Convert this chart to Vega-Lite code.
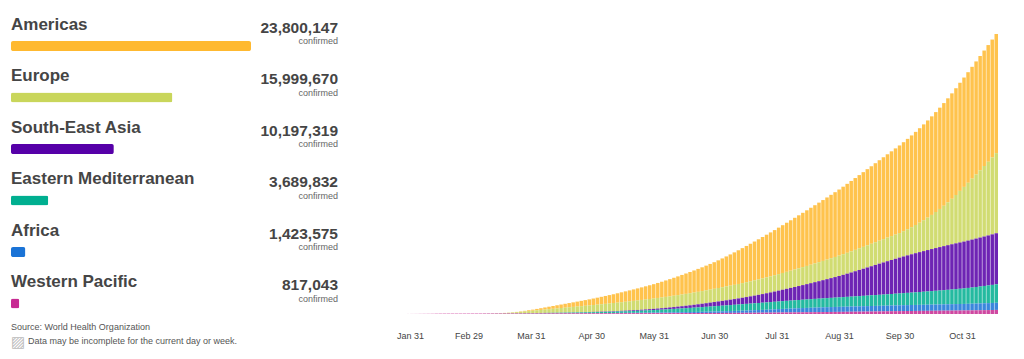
{
"$schema":"https://vega.github.io/schema/vega-lite/v6.json",
"background":"white",
"padding":{"left":11,"top":10,"right":0,"bottom":0},
"config":{"font":"Liberation Sans","view":{"stroke":null}},
"datasets":{
"regions":[
{"key":"AMR","region":"Americas","confirmed":23800147},
{"key":"EUR","region":"Europe","confirmed":15999670},
{"key":"SEA","region":"South-East Asia","confirmed":10197319},
{"key":"EMR","region":"Eastern Mediterranean","confirmed":3689832},
{"key":"AFR","region":"Africa","confirmed":1423575},
{"key":"WPR","region":"Western Pacific","confirmed":817043}
],
"cumulative":[
{"date":"2020-01-22","AMR":0,"EUR":0,"SEA":0,"EMR":0,"AFR":0,"WPR":1},
{"date":"2020-01-24","AMR":0,"EUR":0,"SEA":0,"EMR":0,"AFR":0,"WPR":1},
{"date":"2020-01-26","AMR":0,"EUR":0,"SEA":0,"EMR":0,"AFR":0,"WPR":2},
{"date":"2020-01-28","AMR":0,"EUR":0,"SEA":0,"EMR":0,"AFR":0,"WPR":6},
{"date":"2020-01-30","AMR":0,"EUR":0,"SEA":0,"EMR":0,"AFR":0,"WPR":8},
{"date":"2020-02-01","AMR":0,"EUR":0,"SEA":0,"EMR":0,"AFR":0,"WPR":12},
{"date":"2020-02-03","AMR":0,"EUR":0,"SEA":0,"EMR":0,"AFR":0,"WPR":17},
{"date":"2020-02-05","AMR":0,"EUR":0,"SEA":0,"EMR":0,"AFR":0,"WPR":25},
{"date":"2020-02-07","AMR":0,"EUR":0,"SEA":0,"EMR":0,"AFR":0,"WPR":32},
{"date":"2020-02-09","AMR":0,"EUR":0,"SEA":0,"EMR":0,"AFR":0,"WPR":38},
{"date":"2020-02-11","AMR":0,"EUR":0,"SEA":0,"EMR":0,"AFR":0,"WPR":44},
{"date":"2020-02-13","AMR":0,"EUR":0,"SEA":0,"EMR":0,"AFR":0,"WPR":61},
{"date":"2020-02-15","AMR":0,"EUR":0,"SEA":0,"EMR":0,"AFR":0,"WPR":68},
{"date":"2020-02-17","AMR":0,"EUR":0,"SEA":0,"EMR":0,"AFR":0,"WPR":72},
{"date":"2020-02-19","AMR":0,"EUR":0,"SEA":0,"EMR":0,"AFR":0,"WPR":75},
{"date":"2020-02-21","AMR":0,"EUR":0,"SEA":0,"EMR":0,"AFR":0,"WPR":76},
{"date":"2020-02-23","AMR":0,"EUR":0,"SEA":0,"EMR":1,"AFR":0,"WPR":77},
{"date":"2020-02-25","AMR":0,"EUR":0,"SEA":0,"EMR":1,"AFR":0,"WPR":78},
{"date":"2020-02-27","AMR":0,"EUR":1,"SEA":0,"EMR":1,"AFR":0,"WPR":80},
{"date":"2020-02-29","AMR":0,"EUR":2,"SEA":0,"EMR":1,"AFR":0,"WPR":83},
{"date":"2020-03-02","AMR":0,"EUR":3,"SEA":0,"EMR":2,"AFR":0,"WPR":86},
{"date":"2020-03-04","AMR":0,"EUR":4,"SEA":0,"EMR":3,"AFR":0,"WPR":88},
{"date":"2020-03-06","AMR":0,"EUR":6,"SEA":0,"EMR":5,"AFR":0,"WPR":90},
{"date":"2020-03-08","AMR":1,"EUR":10,"SEA":0,"EMR":7,"AFR":0,"WPR":92},
{"date":"2020-03-10","AMR":1,"EUR":15,"SEA":0,"EMR":9,"AFR":0,"WPR":93},
{"date":"2020-03-12","AMR":2,"EUR":23,"SEA":0,"EMR":12,"AFR":0,"WPR":95},
{"date":"2020-03-14","AMR":3,"EUR":36,"SEA":0,"EMR":15,"AFR":0,"WPR":97},
{"date":"2020-03-16","AMR":5,"EUR":56,"SEA":0,"EMR":18,"AFR":0,"WPR":98},
{"date":"2020-03-18","AMR":9,"EUR":85,"SEA":1,"EMR":21,"AFR":1,"WPR":100},
{"date":"2020-03-20","AMR":17,"EUR":122,"SEA":1,"EMR":25,"AFR":1,"WPR":102},
{"date":"2020-03-22","AMR":33,"EUR":170,"SEA":1,"EMR":29,"AFR":1,"WPR":104},
{"date":"2020-03-24","AMR":55,"EUR":220,"SEA":2,"EMR":34,"AFR":2,"WPR":106},
{"date":"2020-03-26","AMR":85,"EUR":277,"SEA":2,"EMR":40,"AFR":2,"WPR":109},
{"date":"2020-03-28","AMR":125,"EUR":343,"SEA":3,"EMR":46,"AFR":3,"WPR":111},
{"date":"2020-03-30","AMR":170,"EUR":405,"SEA":4,"EMR":53,"AFR":4,"WPR":114},
{"date":"2020-04-01","AMR":215,"EUR":470,"SEA":5,"EMR":60,"AFR":5,"WPR":117},
{"date":"2020-04-03","AMR":280,"EUR":535,"SEA":6,"EMR":67,"AFR":6,"WPR":120},
{"date":"2020-04-05","AMR":350,"EUR":600,"SEA":8,"EMR":74,"AFR":7,"WPR":123},
{"date":"2020-04-07","AMR":420,"EUR":665,"SEA":10,"EMR":81,"AFR":8,"WPR":125},
{"date":"2020-04-09","AMR":490,"EUR":730,"SEA":12,"EMR":88,"AFR":9,"WPR":128},
{"date":"2020-04-11","AMR":560,"EUR":793,"SEA":14,"EMR":95,"AFR":10,"WPR":131},
{"date":"2020-04-13","AMR":630,"EUR":855,"SEA":16,"EMR":103,"AFR":11,"WPR":133},
{"date":"2020-04-15","AMR":700,"EUR":916,"SEA":19,"EMR":111,"AFR":12,"WPR":135},
{"date":"2020-04-17","AMR":770,"EUR":976,"SEA":22,"EMR":119,"AFR":14,"WPR":138},
{"date":"2020-04-19","AMR":840,"EUR":1035,"SEA":25,"EMR":128,"AFR":16,"WPR":140},
{"date":"2020-04-21","AMR":910,"EUR":1093,"SEA":29,"EMR":137,"AFR":18,"WPR":142},
{"date":"2020-04-23","AMR":985,"EUR":1150,"SEA":33,"EMR":147,"AFR":20,"WPR":144},
{"date":"2020-04-25","AMR":1060,"EUR":1206,"SEA":37,"EMR":157,"AFR":22,"WPR":146},
{"date":"2020-04-27","AMR":1135,"EUR":1260,"SEA":42,"EMR":168,"AFR":24,"WPR":148},
{"date":"2020-04-29","AMR":1210,"EUR":1313,"SEA":47,"EMR":179,"AFR":26,"WPR":150},
{"date":"2020-05-01","AMR":1300,"EUR":1368,"SEA":52,"EMR":191,"AFR":29,"WPR":151},
{"date":"2020-05-03","AMR":1390,"EUR":1422,"SEA":58,"EMR":204,"AFR":32,"WPR":153},
{"date":"2020-05-05","AMR":1482,"EUR":1475,"SEA":65,"EMR":218,"AFR":35,"WPR":155},
{"date":"2020-05-07","AMR":1576,"EUR":1527,"SEA":72,"EMR":233,"AFR":38,"WPR":157},
{"date":"2020-05-09","AMR":1672,"EUR":1578,"SEA":80,"EMR":249,"AFR":42,"WPR":159},
{"date":"2020-05-11","AMR":1770,"EUR":1628,"SEA":89,"EMR":266,"AFR":46,"WPR":161},
{"date":"2020-05-13","AMR":1870,"EUR":1677,"SEA":98,"EMR":284,"AFR":50,"WPR":163},
{"date":"2020-05-15","AMR":1972,"EUR":1725,"SEA":112,"EMR":303,"AFR":55,"WPR":165},
{"date":"2020-05-17","AMR":2076,"EUR":1772,"SEA":124,"EMR":323,"AFR":60,"WPR":167},
{"date":"2020-05-19","AMR":2182,"EUR":1818,"SEA":137,"EMR":344,"AFR":66,"WPR":169},
{"date":"2020-05-21","AMR":2290,"EUR":1863,"SEA":151,"EMR":366,"AFR":72,"WPR":171},
{"date":"2020-05-23","AMR":2400,"EUR":1907,"SEA":166,"EMR":390,"AFR":78,"WPR":173},
{"date":"2020-05-25","AMR":2512,"EUR":1950,"SEA":183,"EMR":415,"AFR":85,"WPR":175},
{"date":"2020-05-27","AMR":2626,"EUR":1992,"SEA":201,"EMR":442,"AFR":92,"WPR":177},
{"date":"2020-05-29","AMR":2742,"EUR":2033,"SEA":220,"EMR":470,"AFR":98,"WPR":179},
{"date":"2020-05-31","AMR":2860,"EUR":2073,"SEA":241,"EMR":500,"AFR":105,"WPR":181},
{"date":"2020-06-02","AMR":2995,"EUR":2111,"SEA":263,"EMR":534,"AFR":113,"WPR":183},
{"date":"2020-06-04","AMR":3135,"EUR":2149,"SEA":287,"EMR":569,"AFR":121,"WPR":185},
{"date":"2020-06-06","AMR":3280,"EUR":2187,"SEA":313,"EMR":605,"AFR":130,"WPR":187},
{"date":"2020-06-08","AMR":3430,"EUR":2225,"SEA":341,"EMR":642,"AFR":139,"WPR":189},
{"date":"2020-06-10","AMR":3585,"EUR":2263,"SEA":371,"EMR":679,"AFR":148,"WPR":191},
{"date":"2020-06-12","AMR":3743,"EUR":2301,"SEA":404,"EMR":716,"AFR":158,"WPR":193},
{"date":"2020-06-14","AMR":3904,"EUR":2339,"SEA":440,"EMR":753,"AFR":169,"WPR":195},
{"date":"2020-06-16","AMR":4068,"EUR":2377,"SEA":479,"EMR":790,"AFR":180,"WPR":197},
{"date":"2020-06-18","AMR":4235,"EUR":2415,"SEA":521,"EMR":828,"AFR":192,"WPR":199},
{"date":"2020-06-20","AMR":4405,"EUR":2453,"SEA":566,"EMR":866,"AFR":205,"WPR":201},
{"date":"2020-06-22","AMR":4578,"EUR":2491,"SEA":614,"EMR":904,"AFR":219,"WPR":203},
{"date":"2020-06-24","AMR":4754,"EUR":2530,"SEA":665,"EMR":942,"AFR":234,"WPR":205},
{"date":"2020-06-26","AMR":4934,"EUR":2569,"SEA":719,"EMR":981,"AFR":250,"WPR":207},
{"date":"2020-06-28","AMR":5119,"EUR":2608,"SEA":776,"EMR":1020,"AFR":267,"WPR":209},
{"date":"2020-06-30","AMR":5309,"EUR":2647,"SEA":836,"EMR":1058,"AFR":285,"WPR":211},
{"date":"2020-07-02","AMR":5529,"EUR":2687,"SEA":892,"EMR":1094,"AFR":303,"WPR":214},
{"date":"2020-07-04","AMR":5757,"EUR":2727,"SEA":950,"EMR":1129,"AFR":322,"WPR":217},
{"date":"2020-07-06","AMR":5993,"EUR":2767,"SEA":1010,"EMR":1164,"AFR":342,"WPR":221},
{"date":"2020-07-08","AMR":6235,"EUR":2807,"SEA":1073,"EMR":1198,"AFR":362,"WPR":225},
{"date":"2020-07-10","AMR":6481,"EUR":2847,"SEA":1139,"EMR":1231,"AFR":383,"WPR":229},
{"date":"2020-07-12","AMR":6731,"EUR":2887,"SEA":1209,"EMR":1263,"AFR":405,"WPR":234},
{"date":"2020-07-14","AMR":6985,"EUR":2927,"SEA":1283,"EMR":1294,"AFR":428,"WPR":239},
{"date":"2020-07-16","AMR":7241,"EUR":2967,"SEA":1361,"EMR":1324,"AFR":452,"WPR":245},
{"date":"2020-07-18","AMR":7499,"EUR":3007,"SEA":1443,"EMR":1353,"AFR":477,"WPR":251},
{"date":"2020-07-20","AMR":7757,"EUR":3048,"SEA":1530,"EMR":1381,"AFR":503,"WPR":257},
{"date":"2020-07-22","AMR":8013,"EUR":3089,"SEA":1622,"EMR":1408,"AFR":530,"WPR":263},
{"date":"2020-07-24","AMR":8269,"EUR":3130,"SEA":1719,"EMR":1434,"AFR":558,"WPR":269},
{"date":"2020-07-26","AMR":8523,"EUR":3172,"SEA":1821,"EMR":1459,"AFR":587,"WPR":276},
{"date":"2020-07-28","AMR":8775,"EUR":3214,"SEA":1928,"EMR":1483,"AFR":617,"WPR":283},
{"date":"2020-07-30","AMR":9020,"EUR":3257,"SEA":2040,"EMR":1506,"AFR":647,"WPR":290},
{"date":"2020-08-01","AMR":9282,"EUR":3303,"SEA":2158,"EMR":1529,"AFR":682,"WPR":297},
{"date":"2020-08-03","AMR":9544,"EUR":3349,"SEA":2278,"EMR":1552,"AFR":712,"WPR":305},
{"date":"2020-08-05","AMR":9806,"EUR":3396,"SEA":2400,"EMR":1575,"AFR":741,"WPR":313},
{"date":"2020-08-07","AMR":10067,"EUR":3443,"SEA":2525,"EMR":1598,"AFR":769,"WPR":321},
{"date":"2020-08-09","AMR":10328,"EUR":3491,"SEA":2653,"EMR":1621,"AFR":795,"WPR":329},
{"date":"2020-08-11","AMR":10589,"EUR":3539,"SEA":2784,"EMR":1644,"AFR":820,"WPR":337},
{"date":"2020-08-13","AMR":10850,"EUR":3588,"SEA":2918,"EMR":1667,"AFR":844,"WPR":345},
{"date":"2020-08-15","AMR":11111,"EUR":3638,"SEA":3055,"EMR":1691,"AFR":866,"WPR":354},
{"date":"2020-08-17","AMR":11372,"EUR":3689,"SEA":3195,"EMR":1715,"AFR":887,"WPR":363},
{"date":"2020-08-19","AMR":11633,"EUR":3741,"SEA":3338,"EMR":1740,"AFR":907,"WPR":372},
{"date":"2020-08-21","AMR":11894,"EUR":3794,"SEA":3484,"EMR":1765,"AFR":926,"WPR":381},
{"date":"2020-08-23","AMR":12155,"EUR":3848,"SEA":3633,"EMR":1790,"AFR":944,"WPR":390},
{"date":"2020-08-25","AMR":12416,"EUR":3903,"SEA":3785,"EMR":1815,"AFR":961,"WPR":399},
{"date":"2020-08-27","AMR":12677,"EUR":3959,"SEA":3941,"EMR":1840,"AFR":977,"WPR":408},
{"date":"2020-08-29","AMR":12938,"EUR":4016,"SEA":4101,"EMR":1866,"AFR":992,"WPR":417},
{"date":"2020-08-31","AMR":13199,"EUR":4074,"SEA":4265,"EMR":1892,"AFR":1007,"WPR":426},
{"date":"2020-09-02","AMR":13486,"EUR":4122,"SEA":4444,"EMR":1921,"AFR":1019,"WPR":436},
{"date":"2020-09-04","AMR":13773,"EUR":4171,"SEA":4628,"EMR":1950,"AFR":1030,"WPR":446},
{"date":"2020-09-06","AMR":14060,"EUR":4221,"SEA":4818,"EMR":1979,"AFR":1041,"WPR":456},
{"date":"2020-09-08","AMR":14347,"EUR":4272,"SEA":5012,"EMR":2009,"AFR":1052,"WPR":466},
{"date":"2020-09-10","AMR":14634,"EUR":4324,"SEA":5210,"EMR":2039,"AFR":1062,"WPR":476},
{"date":"2020-09-12","AMR":14921,"EUR":4377,"SEA":5410,"EMR":2069,"AFR":1072,"WPR":486},
{"date":"2020-09-14","AMR":15208,"EUR":4431,"SEA":5612,"EMR":2100,"AFR":1082,"WPR":496},
{"date":"2020-09-16","AMR":15495,"EUR":4486,"SEA":5814,"EMR":2131,"AFR":1092,"WPR":506},
{"date":"2020-09-18","AMR":15782,"EUR":4542,"SEA":6014,"EMR":2163,"AFR":1102,"WPR":517},
{"date":"2020-09-20","AMR":16069,"EUR":4599,"SEA":6212,"EMR":2195,"AFR":1112,"WPR":528},
{"date":"2020-09-22","AMR":16356,"EUR":4657,"SEA":6407,"EMR":2228,"AFR":1122,"WPR":539},
{"date":"2020-09-24","AMR":16643,"EUR":4716,"SEA":6599,"EMR":2262,"AFR":1132,"WPR":550},
{"date":"2020-09-26","AMR":16930,"EUR":4776,"SEA":6787,"EMR":2297,"AFR":1142,"WPR":561},
{"date":"2020-09-28","AMR":17217,"EUR":4837,"SEA":6970,"EMR":2333,"AFR":1152,"WPR":571},
{"date":"2020-09-30","AMR":17504,"EUR":4900,"SEA":7150,"EMR":2370,"AFR":1162,"WPR":580},
{"date":"2020-10-02","AMR":17777,"EUR":5050,"SEA":7322,"EMR":2408,"AFR":1171,"WPR":588},
{"date":"2020-10-04","AMR":18050,"EUR":5220,"SEA":7489,"EMR":2446,"AFR":1180,"WPR":596},
{"date":"2020-10-06","AMR":18323,"EUR":5415,"SEA":7652,"EMR":2485,"AFR":1189,"WPR":604},
{"date":"2020-10-08","AMR":18596,"EUR":5635,"SEA":7810,"EMR":2525,"AFR":1198,"WPR":612},
{"date":"2020-10-10","AMR":18869,"EUR":5885,"SEA":7964,"EMR":2566,"AFR":1207,"WPR":620},
{"date":"2020-10-12","AMR":19142,"EUR":6165,"SEA":8113,"EMR":2608,"AFR":1216,"WPR":628},
{"date":"2020-10-14","AMR":19415,"EUR":6475,"SEA":8258,"EMR":2651,"AFR":1225,"WPR":636},
{"date":"2020-10-16","AMR":19688,"EUR":6820,"SEA":8398,"EMR":2695,"AFR":1234,"WPR":644},
{"date":"2020-10-18","AMR":19961,"EUR":7200,"SEA":8534,"EMR":2740,"AFR":1243,"WPR":652},
{"date":"2020-10-20","AMR":20234,"EUR":7615,"SEA":8665,"EMR":2787,"AFR":1252,"WPR":660},
{"date":"2020-10-22","AMR":20507,"EUR":8065,"SEA":8792,"EMR":2836,"AFR":1261,"WPR":668},
{"date":"2020-10-24","AMR":20780,"EUR":8555,"SEA":8914,"EMR":2886,"AFR":1270,"WPR":676},
{"date":"2020-10-26","AMR":21053,"EUR":9085,"SEA":9032,"EMR":2937,"AFR":1279,"WPR":684},
{"date":"2020-10-28","AMR":21326,"EUR":9655,"SEA":9145,"EMR":2989,"AFR":1288,"WPR":692},
{"date":"2020-10-30","AMR":21600,"EUR":10300,"SEA":9250,"EMR":3043,"AFR":1297,"WPR":700},
{"date":"2020-11-01","AMR":21844,"EUR":10920,"SEA":9354,"EMR":3098,"AFR":1307,"WPR":709},
{"date":"2020-11-03","AMR":22088,"EUR":11545,"SEA":9458,"EMR":3166,"AFR":1320,"WPR":720},
{"date":"2020-11-05","AMR":22332,"EUR":12175,"SEA":9563,"EMR":3236,"AFR":1333,"WPR":732},
{"date":"2020-11-07","AMR":22576,"EUR":12808,"SEA":9668,"EMR":3308,"AFR":1346,"WPR":744},
{"date":"2020-11-09","AMR":22820,"EUR":13443,"SEA":9773,"EMR":3382,"AFR":1360,"WPR":756},
{"date":"2020-11-11","AMR":23064,"EUR":14080,"SEA":9878,"EMR":3457,"AFR":1375,"WPR":769},
{"date":"2020-11-13","AMR":23308,"EUR":14719,"SEA":9984,"EMR":3533,"AFR":1390,"WPR":783},
{"date":"2020-11-15","AMR":23552,"EUR":15359,"SEA":10090,"EMR":3610,"AFR":1406,"WPR":799},
{"date":"2020-11-17","AMR":23800,"EUR":16000,"SEA":10197,"EMR":3690,"AFR":1424,"WPR":817}
]
},
"hconcat":[
{"vconcat":[
{"width":327,"height":309,"data":{"name":"regions"},
"encoding":{"y":{"field":"region","type":"nominal","scale":{"domain":["Americas","Europe","South-East Asia","Eastern Mediterranean","Africa","Western Pacific"],"paddingInner":0,"paddingOuter":0},"axis":null}},
"layer":[
{"mark":{"type":"text","align":"left","baseline":"alphabetic","dy":-6,"fontSize":17,"fontWeight":"bold","color":"#454545"},
"encoding":{"x":{"datum":0,"type":"quantitative","scale":{"domain":[0,32427000],"nice":false},"axis":null},"text":{"field":"region"}}},
{"mark":{"type":"bar","height":10,"yOffset":10.3,"cornerRadius":2},
"encoding":{"x":{"field":"confirmed","type":"quantitative"},"color":{"field":"key","type":"nominal","scale":{"domain":["AMR","EUR","SEA","EMR","AFR","WPR"],"range":["#FFB930","#C9D65B","#5600A8","#00AF90","#1A73D6","#C72A92"]},"legend":null}}},
{"mark":{"type":"text","align":"right","baseline":"alphabetic","dy":-3.2,"fontSize":15.5,"fontWeight":"bold","color":"#454545"},
"encoding":{"x":{"datum":32427000,"type":"quantitative"},"text":{"field":"confirmed","type":"quantitative","format":","}}},
{"mark":{"type":"text","align":"right","baseline":"alphabetic","dy":8.4,"fontSize":9,"color":"#666666","text":"confirmed"},
"encoding":{"x":{"datum":32427000,"type":"quantitative"}}}
]},
{"width":327,"height":28,
"data":{"values":[{"line":"source","text":"Source: World Health Organization"},{"line":"note","text":"Data may be incomplete for the current day or week."}]},
"encoding":{"y":{"field":"line","type":"nominal","scale":{"domain":["source","note"],"paddingInner":0,"paddingOuter":0},"axis":null},
"x":{"datum":0,"type":"quantitative","scale":{"domain":[0,1]},"axis":null}},
"layer":[
{"transform":[{"filter":"datum.line === 'source'"}],"mark":{"type":"text","align":"left","baseline":"middle","fontSize":9,"color":"#555555"},"encoding":{"text":{"field":"text"}}},
{"transform":[{"filter":"datum.line === 'note'"}],"mark":{"type":"text","align":"left","baseline":"middle","dx":17,"fontSize":9,"color":"#555555"},"encoding":{"text":{"field":"text"}}},
{"transform":[{"filter":"datum.line === 'note'"}],"mark":{"type":"text","align":"left","baseline":"middle","dy":1,"font":"DejaVu Sans","fontSize":15,"color":"#BBBBBB","text":"▨"}}
]}
],"spacing":1},
{"width":656,"height":304,"data":{"name":"cumulative"},
"transform":[
{"fold":["AMR","EUR","SEA","EMR","AFR","WPR"],"as":["key","cases"]},
{"lookup":"key","from":{"data":{"name":"regions"},"key":"key","fields":["confirmed"]}}
],
"mark":{"type":"bar","width":3.5,"opacity":0.86},
"encoding":{
"x":{"field":"date","type":"temporal","scale":{"type":"utc","padding":0,"domain":[1578198816000,1606332384000]},
"axis":{"values":[{"year":2020,"month":1,"date":31,"utc":true},{"year":2020,"month":2,"date":29,"utc":true},{"year":2020,"month":3,"date":31,"utc":true},{"year":2020,"month":4,"date":30,"utc":true},{"year":2020,"month":5,"date":31,"utc":true},{"year":2020,"month":6,"date":30,"utc":true},{"year":2020,"month":7,"date":31,"utc":true},{"year":2020,"month":8,"date":31,"utc":true},{"year":2020,"month":9,"date":30,"utc":true},{"year":2020,"month":10,"date":31,"utc":true}],
"labelExpr":"utcFormat(datum.value, '%b %d')","domain":false,"ticks":false,"grid":false,"labelPadding":17,"labelFontSize":9,"labelColor":"#444444","title":null}},
"y":{"field":"cases","type":"quantitative","stack":"zero","scale":{"domain":[0,60720],"nice":false},"axis":null},
"color":{"field":"key","type":"nominal","scale":{"domain":["AMR","EUR","SEA","EMR","AFR","WPR"],"range":["#FFB930","#C9D65B","#5600A8","#00AF90","#1A73D6","#C72A92"]},"legend":null},
"order":{"field":"confirmed","type":"quantitative","sort":"ascending"}
}}
],
"spacing":20
}
